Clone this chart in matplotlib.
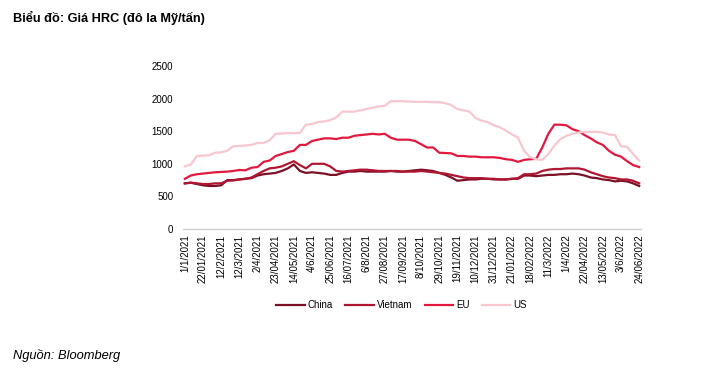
import matplotlib
matplotlib.use("Agg")
import matplotlib.pyplot as plt

plt.rcParams['font.family'] = ['Liberation Sans', 'DejaVu Sans']

dates = ["1/1/2021", "8/1/2021", "15/01/2021", "22/01/2021", "29/01/2021", "5/2/2021",
         "12/2/2021", "26/02/2021", "5/3/2021", "12/3/2021", "19/03/2021", "26/03/2021",
         "2/4/2021", "9/4/2021", "16/04/2021", "23/04/2021", "30/04/2021", "7/5/2021",
         "14/05/2021", "21/05/2021", "28/05/2021", "4/6/2021", "11/6/2021", "18/06/2021",
         "25/06/2021", "2/7/2021", "9/7/2021", "16/07/2021", "23/07/2021", "30/07/2021",
         "6/8/2021", "13/08/2021", "20/08/2021", "27/08/2021", "3/9/2021", "10/9/2021",
         "17/09/2021", "24/09/2021", "1/10/2021", "8/10/2021", "15/10/2021", "22/10/2021",
         "29/10/2021", "5/11/2021", "12/11/2021", "19/11/2021", "26/11/2021", "3/12/2021",
         "10/12/2021", "17/12/2021", "24/12/2021", "31/12/2021", "7/1/2022", "14/01/2022",
         "21/01/2022", "28/01/2022", "11/2/2022", "18/02/2022", "25/02/2022", "4/3/2022",
         "11/3/2022", "18/03/2022", "25/03/2022", "1/4/2022", "8/4/2022", "15/04/2022",
         "22/04/2022", "29/04/2022", "6/5/2022", "13/05/2022", "20/05/2022", "27/05/2022",
         "3/6/2022", "10/6/2022", "17/06/2022", "24/06/2022"]

china = [700, 710, 690, 670, 660, 660, 670, 750, 750, 760, 770, 780, 820, 840, 850, 860,
         890, 930, 990, 890, 860, 870, 860, 850, 830, 830, 860, 880, 880, 890, 880, 880,
         880, 880, 890, 880, 880, 890, 900, 910, 900, 890, 860, 830, 790, 740, 750, 760,
         760, 770, 770, 760, 760, 760, 770, 770, 820, 820, 810, 820, 830, 830, 840, 840,
         850, 840, 820, 790, 780, 760, 750, 730, 740, 730, 700, 660]
vietnam = [700, 710, 700, 690, 690, 700, 700, 740, 745, 760, 770, 790, 840, 890, 930, 940,
           960, 1000, 1040, 980, 930, 1000, 1000, 1000, 960, 890, 880, 890, 900, 910, 910, 900,
           890, 890, 890, 890, 880, 880, 880, 890, 880, 870, 860, 850, 830, 810, 790, 780,
           780, 780, 770, 770, 760, 760, 770, 780, 840, 840, 850, 890, 910, 920, 920, 930,
           930, 930, 910, 870, 840, 810, 790, 780, 760, 760, 740, 700]
eu = [770, 820, 840, 850, 860, 870, 875, 880, 890, 905, 900, 940, 950, 1030, 1050, 1120,
      1150, 1180, 1200, 1290, 1290, 1350, 1370, 1390, 1390, 1380, 1400, 1400, 1430, 1440, 1450, 1460,
      1450, 1460, 1400, 1370, 1370, 1370, 1350, 1300, 1250, 1250, 1170, 1165, 1160, 1120, 1120, 1110,
      1110, 1100, 1100, 1100, 1090, 1070, 1060, 1030, 1060, 1070, 1075, 1250, 1460, 1600, 1600, 1590,
      1530, 1500, 1440, 1390, 1330, 1290, 1200, 1140, 1110, 1040, 980, 950]
us = [960, 990, 1120, 1125, 1130, 1170, 1175, 1200, 1270, 1275, 1280, 1290, 1320, 1320, 1360, 1460,
      1465, 1470, 1470, 1475, 1600, 1610, 1640, 1650, 1670, 1710, 1800, 1800, 1800, 1820, 1840, 1860,
      1880, 1890, 1960, 1960, 1960, 1955, 1950, 1950, 1950, 1945, 1945, 1930, 1900, 1840, 1820, 1800,
      1700, 1660, 1640, 1590, 1560, 1510, 1450, 1400, 1200, 1100, 1070, 1060, 1150, 1280, 1380, 1430,
      1460, 1480, 1490, 1490, 1490, 1480, 1450, 1440, 1270, 1260, 1150, 1050]

series = [("China", china, "#7b1126"), ("Vietnam", vietnam, "#b01632"),
          ("EU", eu, "#e2183f"), ("US", us, "#f8c6cf")]

fig = plt.figure(figsize=(7.08, 3.75), dpi=100)
ax = fig.add_axes([183/708, 1-229/375, (641-183)/708, (229-66)/375])

x = list(range(len(dates)))
for name, vals, col in series:
    ax.plot(x, vals, color=col, lw=1.6, label=name)

ax.set_ylim(0, 2500)
ax.set_xlim(-0.3, len(dates) - 0.7)
ax.set_yticks([0, 500, 1000, 1500, 2000, 2500])
ax.set_xticks(x[::3])
ax.set_xticklabels(dates[::3], rotation=90, fontsize=7)
ax.tick_params(axis='y', length=0, labelsize=7, pad=7)
ax.tick_params(axis='x', length=0, pad=4)
for s in ['top', 'right', 'left']:
    ax.spines[s].set_visible(False)
ax.spines['bottom'].set_color('#d0d0d0')
ax.spines['bottom'].set_linewidth(1.0)

fig.legend(loc='center', bbox_to_anchor=(401.5/708, 1-305/375), ncol=4, frameon=False,
           fontsize=7, handlelength=2.9, handletextpad=0.3, columnspacing=1.3)

fig.text(13/708, 1-18/375, "Biểu đồ: Giá HRC (đô la Mỹ/tấn)", fontsize=9.2,
         fontweight='bold', va='center', ha='left')
fig.text(13/708, 1-355/375, "Nguồn: Bloomberg", fontsize=9.3, style='italic',
         va='center', ha='left')

fig.savefig("out.png", dpi=100)
